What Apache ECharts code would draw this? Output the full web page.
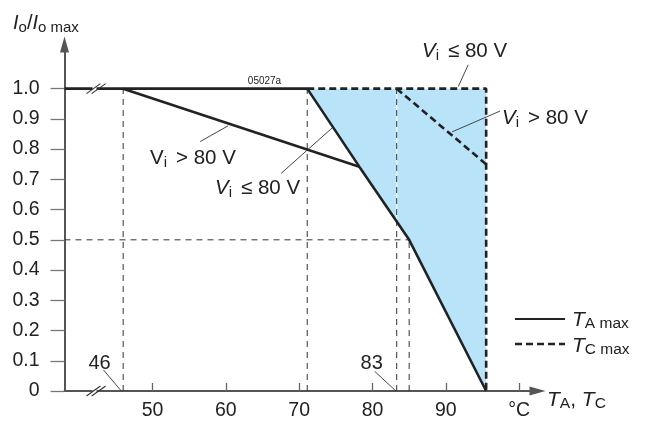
<!DOCTYPE html>
<html>
<head>
<meta charset="utf-8">
<script src="https://cdn.jsdelivr.net/npm/echarts@6/dist/echarts.min.js"></script>
<style>
html,body{margin:0;padding:0;background:#fff;}
#chart{width:647px;height:421px;}
</style>
</head>
<body>
<div id="chart"></div>
<script>
// ---- data ----
const xTicks = [50, 60, 70, 80, 90, 100];
const xTickLabels = ['50', '60', '70', '80', '90', '°C'];
const yTicks = [0, 0.1, 0.2, 0.3, 0.4, 0.5, 0.6, 0.7, 0.8, 0.9, 1.0];
const yTickLabels = ['0', '0.1', '0.2', '0.3', '0.4', '0.5', '0.6', '0.7', '0.8', '0.9', '1.0'];

// T_A max (solid)
const taLowV = [[38, 1.0], [71.1, 1.0], [78.2, 0.742], [85, 0.5], [95.5, 0]];   // Vi <= 80 V
const taHighV = [[46, 1.0], [78.2, 0.742]];                                       // Vi > 80 V
// T_C max (dashed)
const tcLowV = [[71.1, 1.0], [95.5, 1.0], [95.5, 0]];                             // Vi <= 80 V
const tcHighV = [[83.3, 1.0], [95.5, 0.75]];                                      // Vi > 80 V
// shaded region between T_A max and T_C max
const shadedArea = [[71.1, 1.0], [95.5, 1.0], [95.5, 0], [85, 0.5], [78.2, 0.742]];
// thin dashed guide lines
const guideLines = [
  [[46, 0], [46, 1.0]],
  [[71.1, 0], [71.1, 1.0]],
  [[83.3, 0], [83.3, 1.0]],
  [[85, 0], [85, 0.5]],
  [[38, 0.5], [85, 0.5]]
];
const whiteGap = [[83.3, 0.56], [83.3, 1.0]];
// leader lines for annotations
const leaderLines = [
  [[43.3, 0.07], [45.75, 0]],
  [[80.3, 0.065], [83.2, 0]],
  [[56.5, 0.825], [60.3, 0.877]],
  [[67.55, 0.72], [74.5, 0.87]],
  [[93.05, 1.079], [91.7, 1.007]],
  [[97.4, 0.926], [90.85, 0.857]]
];
const axisBreaks = [[42.3, 1.0], [42.3, 0]];

// ---- styles ----
const FONT = '"Liberation Sans", Arial, Helvetica, sans-serif';
const INK = '#222';
const FS = 19.5;
function makeRich(main, sub) {
  return {
    n: {fontFamily: FONT, fontSize: main, color: INK, lineHeight: 24},
    i: {fontFamily: FONT, fontSize: main, fontStyle: 'italic', color: INK, lineHeight: 24},
    s: {fontFamily: FONT, fontSize: sub, color: INK, lineHeight: 14, verticalAlign: 'bottom'},
    g: {fontFamily: FONT, fontSize: main, color: INK, lineHeight: 24, width: 9}
  };
}
function richText(x, y, text, main, sub) {
  return {
    type: 'text', x: x, y: y, silent: true, z: 100,
    style: {text: text, rich: makeRich(main, sub), textAlign: 'left', textVerticalAlign: 'middle',
            font: main + 'px ' + FONT, fill: INK}
  };
}
function plainText(x, y, text, size) {
  return {
    type: 'text', x: x, y: y, silent: true, z: 100,
    style: {text: text, font: size + 'px ' + FONT, fill: INK, textAlign: 'center', textVerticalAlign: 'middle'}
  };
}

const chart = echarts.init(document.getElementById('chart'), null, {renderer: 'canvas'});

const solid = {color: INK, width: 2.6, type: 'solid'};
const dashedThick = {color: INK, width: 2.6, type: [7, 4]};
const dashedThin = {color: '#333', width: 1, type: [6, 5]};

const series = [];
series.push({
  type: 'custom', coordinateSystem: 'cartesian2d', silent: true, z: 1,
  data: shadedArea,
  renderItem: function (params, api) {
    if (params.dataIndex !== 0) return;
    const pts = shadedArea.map(p => api.coord(p));
    return {type: 'polygon', shape: {points: pts}, style: {fill: '#b9e3f8', stroke: null}};
  }
});
series.push({type: 'line', data: whiteGap, symbol: 'none', silent: true, z: 2,
  lineStyle: {color: '#fff', width: 1.2}});
guideLines.forEach(g => series.push({type: 'line', data: g, symbol: 'none', silent: true, z: 3, lineStyle: dashedThin}));
[taLowV, taHighV].forEach(d => series.push({type: 'line', data: d, symbol: 'none', silent: true, z: 5, lineStyle: solid}));
[tcLowV, tcHighV].forEach(d => series.push({type: 'line', data: d, symbol: 'none', silent: true, z: 5, lineStyle: dashedThick}));
leaderLines.forEach(d => series.push({type: 'line', data: d, symbol: 'none', silent: true, z: 6, lineStyle: {color: '#333', width: 0.9}}));
series.push({
  type: 'custom', coordinateSystem: 'cartesian2d', silent: true, z: 10,
  data: axisBreaks, clip: false,
  renderItem: function (params, api) {
    const c = api.coord([api.value(0), api.value(1)]);
    const mk = dx => ({type: 'line', shape: {x1: c[0] + dx - 7, y1: c[1] + 5, x2: c[0] + dx + 7, y2: c[1] - 5},
      style: {stroke: '#333', lineWidth: 1.1}});
    return {type: 'group', children: [
      {type: 'rect', shape: {x: c[0] - 3.5, y: c[1] - 2, width: 4, height: 4}, style: {fill: '#fff'}},
      mk(-2.6), mk(2.6)
    ]};
  }
});

const graphic = [
  richText(13, 23, '{i|I}{s|o}{n|/}{i|I}{s|o max}', 20, 15),
  richText(547, 400, '{i|T}{s|A}{n|, }{i|T}{s|C}', 21, 15.5),
  richText(150, 158, '{n|V}{s|i}{g| }{n|> 80 V}', 20.5, 15),
  richText(215, 188, '{i|V}{s|i}{g| }{n|≤ 80 V}', 20.5, 15),
  richText(422, 51, '{i|V}{s|i}{g| }{n|≤ 80 V}', 20.5, 15),
  richText(502, 118, '{i|V}{s|i}{g| }{n|> 80 V}', 20.5, 15),
  plainText(99.5, 363, '46', 20),
  plainText(371.7, 363, '83', 20),
  plainText(264.5, 81.5, '05027a', 10),
  {type: 'line', silent: true, shape: {x1: 515, y1: 319, x2: 565, y2: 319}, style: {stroke: INK, lineWidth: 2}},
  {type: 'line', silent: true, shape: {x1: 515, y1: 344, x2: 565, y2: 344}, style: {stroke: INK, lineWidth: 2.6, lineDash: [7, 4]}},
  richText(572, 320, '{i|T}{s|A max}', 21, 15.5),
  richText(572, 346, '{i|T}{s|C max}', 21, 15.5)
];

const axisColor = '#555';
chart.setOption({
  animation: false,
  backgroundColor: '#fff',
  grid: {left: 64.5, right: 109.5, top: 44.5, bottom: 25.3, containLabel: false},
  xAxis: {
    type: 'value', min: 38, max: 102.5,
    axisLine: {show: true, symbol: ['none', 'triangle'], symbolSize: [9, 16], lineStyle: {color: axisColor, width: 2}},
    axisTick: {show: true, inside: true, length: 8, customValues: xTicks, lineStyle: {color: '#666', width: 1.3}},
    axisLabel: {show: true, margin: 10, customValues: xTicks, fontSize: FS, fontFamily: FONT, color: INK,
      formatter: v => xTickLabels[xTicks.indexOf(v)] || ''},
    splitLine: {show: false}
  },
  yAxis: {
    type: 'value', min: 0, max: 1.146,
    axisLine: {show: true, symbol: ['none', 'triangle'], symbolSize: [9, 16], lineStyle: {color: axisColor, width: 2}},
    axisTick: {show: true, inside: false, length: 14, customValues: yTicks, lineStyle: {color: '#777', width: 1.3}},
    axisLabel: {show: true, margin: 25, customValues: yTicks, fontSize: FS, fontFamily: FONT, color: INK,
      formatter: v => { const k = yTicks.findIndex(t => Math.abs(t - v) < 1e-6); return k >= 0 ? yTickLabels[k] : ''; }},
    splitLine: {show: false}
  },
  series: series,
  graphic: graphic
});
</script>
</body>
</html>
